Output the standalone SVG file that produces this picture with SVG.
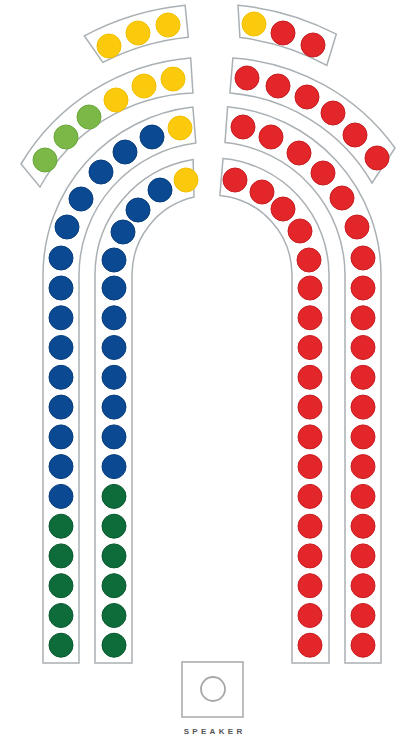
<svg xmlns="http://www.w3.org/2000/svg" width="403" height="739" viewBox="0 0 403 739">
<style>
.band{fill:#fff;stroke:#aab0b4;stroke-width:1.5}
.y{fill:#fcca0c;stroke:#f2c000;stroke-width:1}
.r{fill:#e3262a;stroke:#c81c20;stroke-width:1}
.b{fill:#0b4a93;stroke:#083d7c;stroke-width:1}
.g{fill:#0e6b3a;stroke:#0a5a30;stroke-width:1}
.lg{fill:#7bb848;stroke:#6aa83a;stroke-width:1}
.lbl{font-family:"Liberation Sans",Arial,sans-serif;font-size:8px;font-weight:bold;letter-spacing:3.3px;fill:#555}
</style>
<rect width="403" height="739" fill="#fff"/>
<defs>
<circle id="d" r="12"/>
</defs>

<g id="row1-left">
<path class="band" d="M84.4,35.9 A271,271 0 0 1 185.1,5.3 L188.3,37.2 A239,239 0 0 0 102.8,62.4 Z"/>
<use href="#d" class="y" x="109" y="46"/><use href="#d" class="y" x="138" y="33"/><use href="#d" class="y" x="168" y="25"/>
</g>
<g id="row1-right">
<path class="band" d="M238,5.2 A271,271 0 0 1 336.3,34.2 L326.8,65.3 A239,239 0 0 0 239.9,37.6 Z"/>
<use href="#d" class="y" x="254" y="24"/><use href="#d" class="r" x="283" y="33"/><use href="#d" class="r" x="313" y="45"/>
</g>

<g id="row2-left">
<path class="band" d="M21,164 A218,218 0 0 1 190.7,58 L192.9,93 A183,183 0 0 0 40,187 Z"/>
<use href="#d" class="lg" x="45" y="160"/><use href="#d" class="lg" x="66" y="137"/><use href="#d" class="lg" x="89" y="117"/>
<use href="#d" class="y" x="116" y="100"/><use href="#d" class="y" x="144" y="86"/><use href="#d" class="y" x="173" y="79"/>
</g>
<g id="row2-right">
<path class="band" d="M232.9,58 A218,218 0 0 1 395,148 L372,183 A183,183 0 0 0 229.9,92.9 Z"/>
<use href="#d" class="r" x="247" y="78"/><use href="#d" class="r" x="278" y="86"/><use href="#d" class="r" x="307" y="97"/>
<use href="#d" class="r" x="333" y="113"/><use href="#d" class="r" x="355" y="135"/><use href="#d" class="r" x="377" y="158"/>
</g>

<g id="outer-left">
<path class="band" d="M43,663 V275 A169,169 0 0 1 192.9,107.1 L195.8,143 A133,133 0 0 0 79,275 V663 Z"/>
<use href="#d" class="y" x="180" y="128"/>
<use href="#d" class="b" x="152" y="137"/><use href="#d" class="b" x="125" y="152"/><use href="#d" class="b" x="101" y="172"/>
<use href="#d" class="b" x="81" y="199"/><use href="#d" class="b" x="67" y="227"/><use href="#d" class="b" x="61" y="258"/>
<use href="#d" class="b" x="61" y="288"/><use href="#d" class="b" x="61" y="317.8"/><use href="#d" class="b" x="61" y="347.5"/>
<use href="#d" class="b" x="61" y="377.3"/><use href="#d" class="b" x="61" y="407.1"/><use href="#d" class="b" x="61" y="436.9"/>
<use href="#d" class="b" x="61" y="466.6"/><use href="#d" class="b" x="61" y="496.4"/>
<use href="#d" class="g" x="61" y="526.2"/><use href="#d" class="g" x="61" y="555.9"/><use href="#d" class="g" x="61" y="585.7"/>
<use href="#d" class="g" x="61" y="615.5"/><use href="#d" class="g" x="61" y="645.2"/>
</g>

<g id="inner-left">
<path class="band" d="M95,663 V275 A117,117 0 0 1 193.1,159.5 L194,197.1 A80,80 0 0 0 132,275 V663 Z"/>
<use href="#d" class="y" x="186" y="180"/>
<use href="#d" class="b" x="160" y="190"/><use href="#d" class="b" x="138" y="210"/><use href="#d" class="b" x="123" y="232"/>
<use href="#d" class="b" x="114" y="260"/>
<use href="#d" class="b" x="114" y="288"/><use href="#d" class="b" x="114" y="317.8"/><use href="#d" class="b" x="114" y="347.5"/>
<use href="#d" class="b" x="114" y="377.3"/><use href="#d" class="b" x="114" y="407.1"/><use href="#d" class="b" x="114" y="436.9"/>
<use href="#d" class="b" x="114" y="466.6"/>
<use href="#d" class="g" x="114" y="496.4"/><use href="#d" class="g" x="114" y="526.2"/><use href="#d" class="g" x="114" y="555.9"/>
<use href="#d" class="g" x="114" y="585.7"/><use href="#d" class="g" x="114" y="615.5"/><use href="#d" class="g" x="114" y="645.2"/>
</g>

<g id="inner-right">
<path class="band" d="M329,663 V275 A117,117 0 0 0 223,158.5 L219.9,195.4 A80,80 0 0 1 292,275 V663 Z"/>
<use href="#d" class="r" x="235" y="180"/><use href="#d" class="r" x="262" y="192"/><use href="#d" class="r" x="283" y="209"/>
<use href="#d" class="r" x="300" y="231"/><use href="#d" class="r" x="309" y="260"/>
<use href="#d" class="r" x="310" y="288"/><use href="#d" class="r" x="310" y="317.8"/><use href="#d" class="r" x="310" y="347.5"/>
<use href="#d" class="r" x="310" y="377.3"/><use href="#d" class="r" x="310" y="407.1"/><use href="#d" class="r" x="310" y="436.9"/>
<use href="#d" class="r" x="310" y="466.6"/><use href="#d" class="r" x="310" y="496.4"/><use href="#d" class="r" x="310" y="526.2"/>
<use href="#d" class="r" x="310" y="555.9"/><use href="#d" class="r" x="310" y="585.7"/><use href="#d" class="r" x="310" y="615.5"/>
<use href="#d" class="r" x="310" y="645.2"/>
</g>

<g id="outer-right">
<path class="band" d="M381,663 V275 A169,169 0 0 0 227.6,106.7 L225,142.6 A133,133 0 0 1 345,275 V663 Z"/>
<use href="#d" class="r" x="243" y="127"/><use href="#d" class="r" x="271" y="137"/><use href="#d" class="r" x="299" y="153"/>
<use href="#d" class="r" x="323" y="173"/><use href="#d" class="r" x="342" y="198"/><use href="#d" class="r" x="357" y="227"/>
<use href="#d" class="r" x="363" y="258"/>
<use href="#d" class="r" x="363" y="288"/><use href="#d" class="r" x="363" y="317.8"/><use href="#d" class="r" x="363" y="347.5"/>
<use href="#d" class="r" x="363" y="377.3"/><use href="#d" class="r" x="363" y="407.1"/><use href="#d" class="r" x="363" y="436.9"/>
<use href="#d" class="r" x="363" y="466.6"/><use href="#d" class="r" x="363" y="496.4"/><use href="#d" class="r" x="363" y="526.2"/>
<use href="#d" class="r" x="363" y="555.9"/><use href="#d" class="r" x="363" y="585.7"/><use href="#d" class="r" x="363" y="615.5"/>
<use href="#d" class="r" x="363" y="645.2"/>
</g>

<g id="speaker">
<rect x="182" y="662" width="61" height="55" fill="#fff" stroke="#a8a8a8" stroke-width="1.5"/>
<circle cx="213" cy="689" r="12" fill="none" stroke="#a8a8a8" stroke-width="1.8"/>
<text class="lbl" x="214.6" y="734" text-anchor="middle">SPEAKER</text>
</g>
<g id="connectors"/>
</svg>
